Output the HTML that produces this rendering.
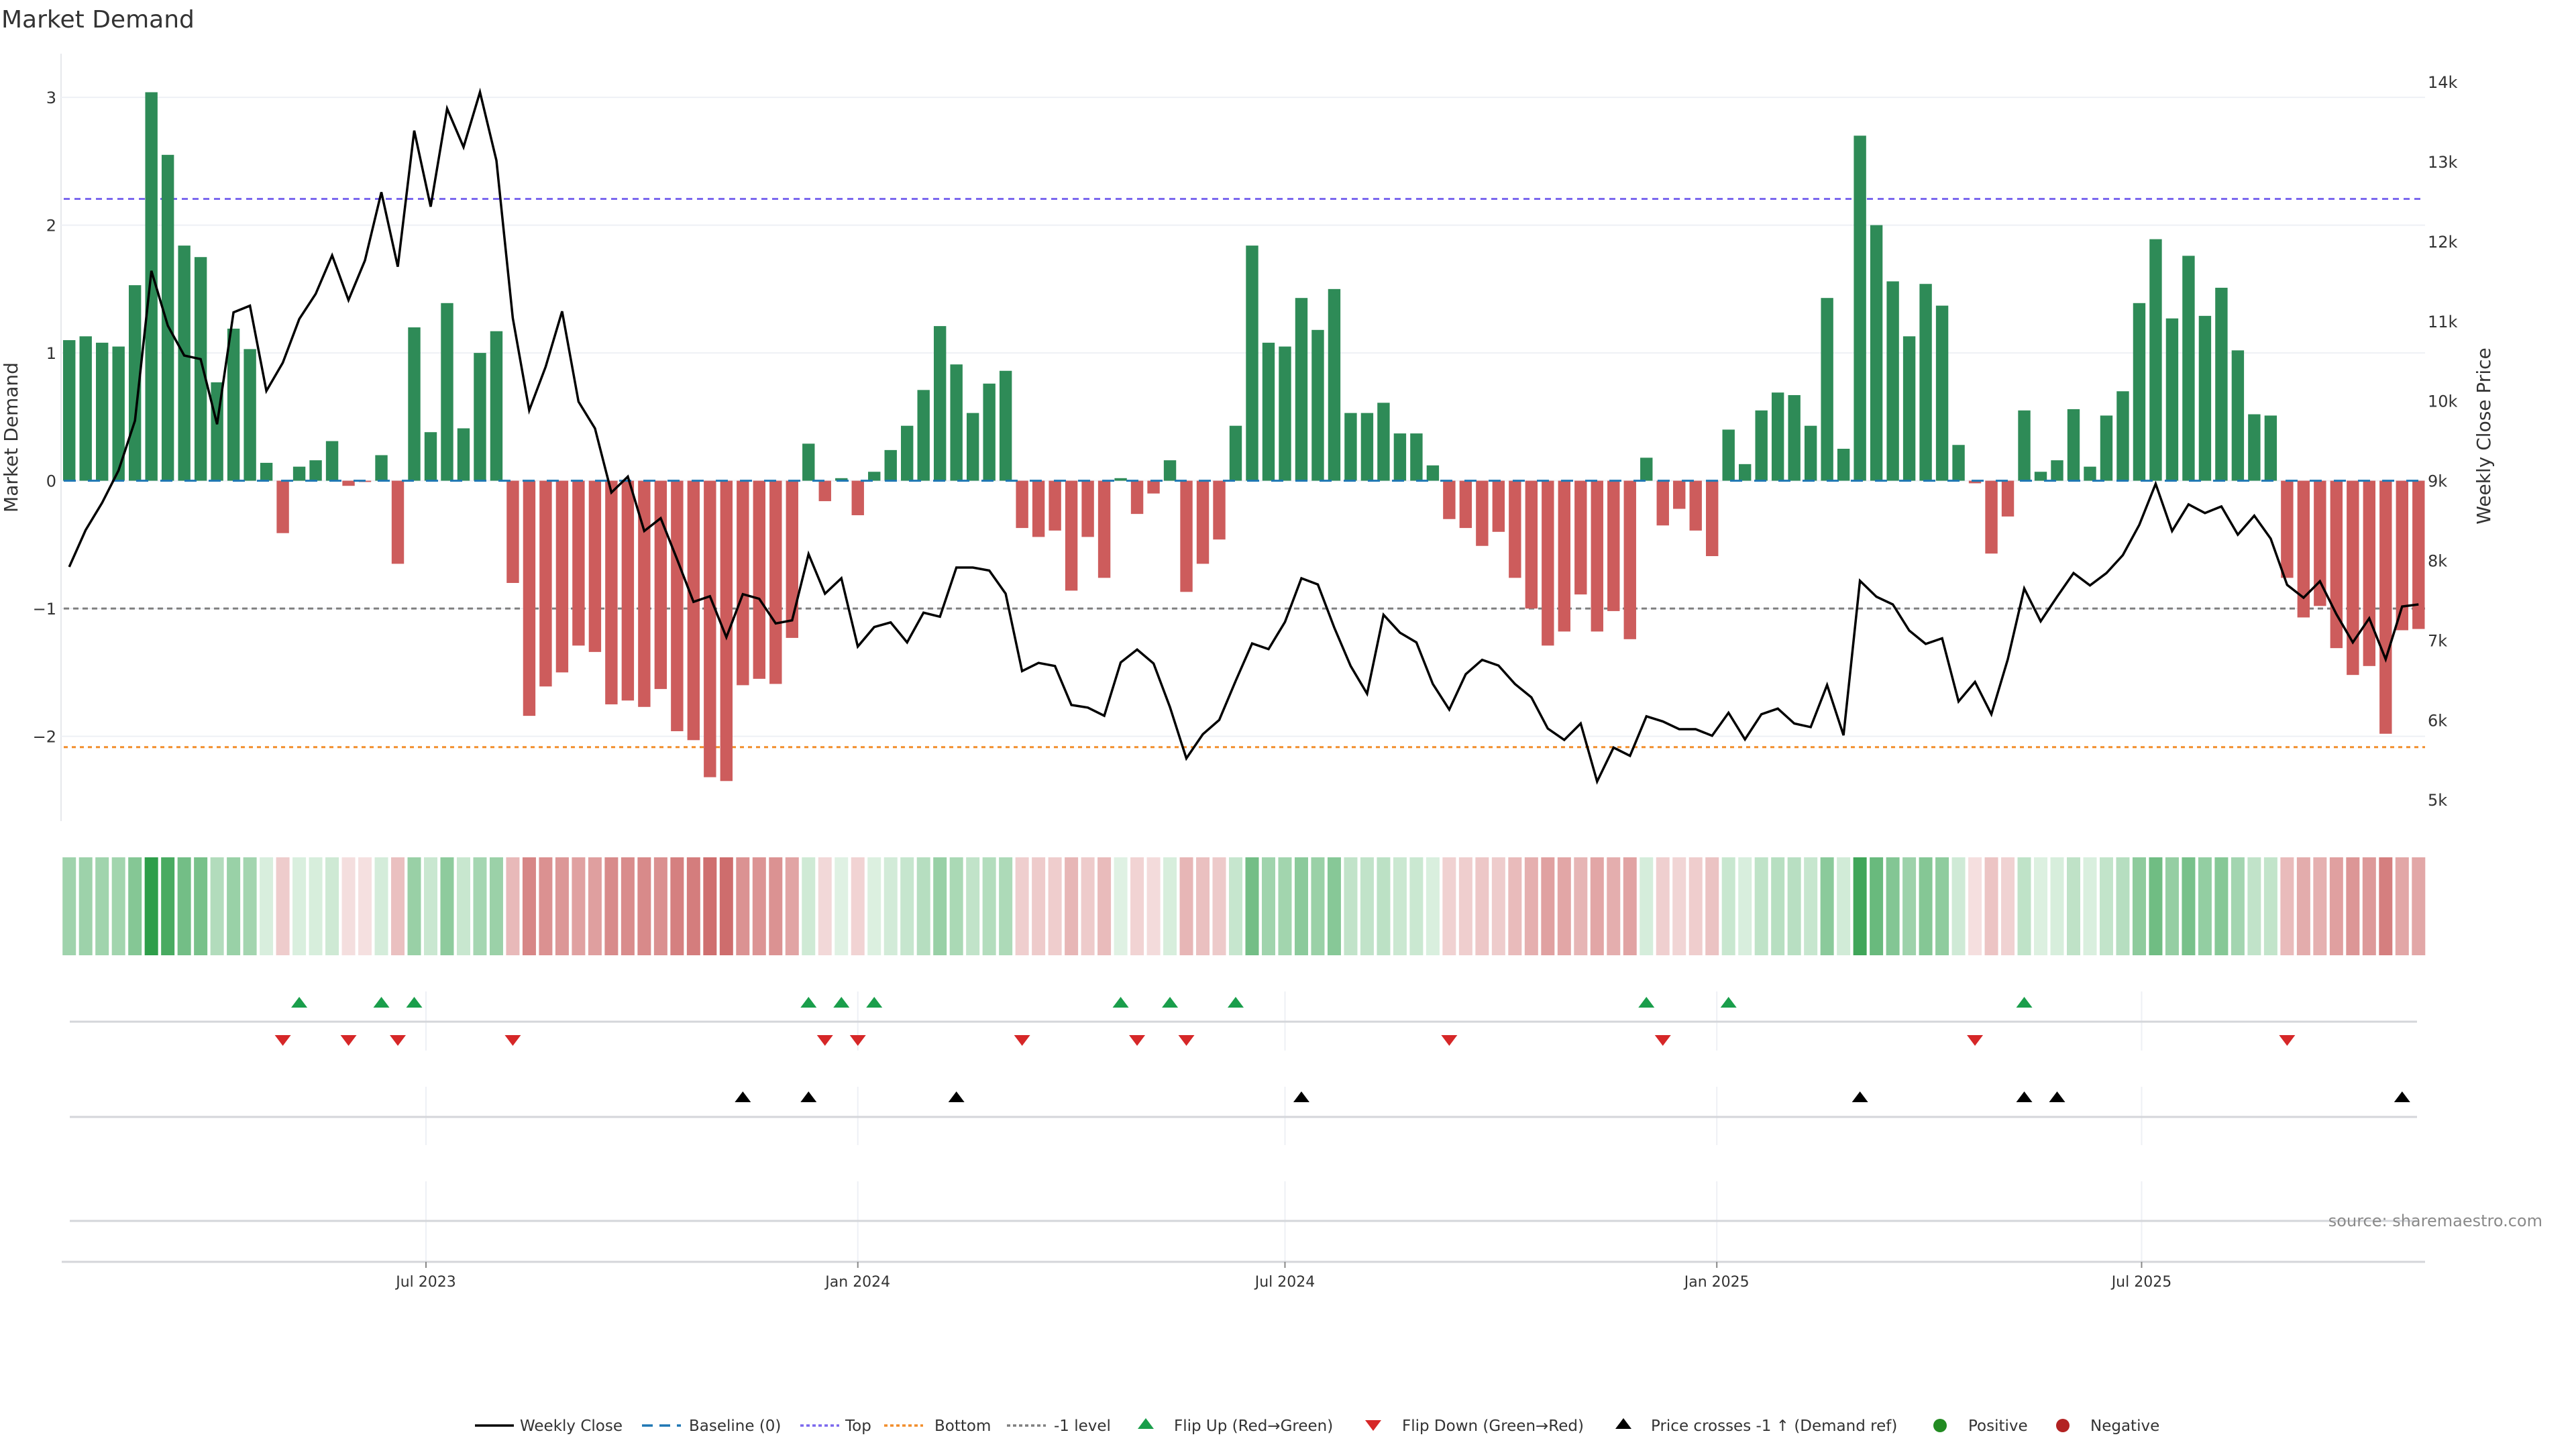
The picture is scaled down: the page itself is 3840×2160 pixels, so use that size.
<!DOCTYPE html>
<html><head><meta charset="utf-8"><title>Market Demand</title>
<style>
html,body{margin:0;padding:0;background:#fff;}
svg{display:block;font-family:"DejaVu Sans","Liberation Sans",sans-serif;}
</style></head>
<body>
<svg id="chart" xmlns="http://www.w3.org/2000/svg" width="3840" height="2160" viewBox="0 0 3840 2160">
<rect x="0" y="0" width="3840" height="2160" fill="#ffffff"/>
<text x="2" y="41" font-size="36" fill="#333">Market Demand</text>
<text x="0" y="0" transform="translate(26,652) rotate(-90)" font-size="28" fill="#333" text-anchor="middle">Market Demand</text>
<text x="0" y="0" transform="translate(3712,650) rotate(-90)" font-size="28" fill="#333" text-anchor="middle">Weekly Close Price</text>
<line x1="91" y1="80" x2="91" y2="1224" stroke="#e6e8ec" stroke-width="2"/>
<g id="grid"></g>
<g id="refs"></g>
<g id="bars"></g>
<g id="line"></g>
<g id="heat"></g>
<g id="panels"></g>
<g id="xaxis"></g>
<text x="3790" y="1828" font-size="24" fill="#8a8a8a" text-anchor="end">source: sharemaestro.com</text>
<g id="legend"></g>
</svg>
<script>
const demandValues = [1.10,1.13,1.08,1.05,1.53,3.04,2.55,1.84,1.75,0.77,1.19,1.03,0.14,-0.41,0.11,0.16,0.31,-0.04,-0.01,0.20,-0.65,1.20,0.38,1.39,0.41,1.00,1.17,-0.80,-1.84,-1.61,-1.50,-1.29,-1.34,-1.75,-1.72,-1.77,-1.63,-1.96,-2.03,
-2.32,-2.35,-1.60,-1.55,-1.59,-1.23,0.29,-0.16,0.02,-0.27,0.07,0.24,0.43,0.71,1.21,0.91,0.53,0.76,0.86,-0.37,-0.44,-0.39,-0.86,-0.44,-0.76,0.02,-0.26,-0.10,0.16,-0.87,-0.65,-0.46,0.43,1.84,1.08,1.05,1.43,1.18,
1.50,0.53,0.53,0.61,0.37,0.37,0.12,-0.30,-0.37,-0.51,-0.40,-0.76,-1.00,-1.29,-1.18,-0.89,-1.18,-1.02,-1.24,0.18,-0.35,-0.22,-0.39,-0.59,0.40,0.13,0.55,0.69,0.67,0.43,1.43,0.25,2.70,2.00,1.56,1.13,1.54,
1.37,0.28,-0.02,-0.57,-0.28,0.55,0.07,0.16,0.56,0.11,0.51,0.70,1.39,1.89,1.27,1.76,1.29,1.51,1.02,0.52,0.51,-0.76,-1.07,-0.98,-1.31,-1.52,-1.45,-1.98,-1.17,-1.16];
const closePrices = [7919,8382,8723,9129,9753,11632,10943,10570,10525,9708,11111,11194,10126,10480,11027,11342,11825,11265,11761,12617,11683,13389,12436,13665,13183,13871,13015,11040,9882,10429,11124,9991,9656,8852,9051,8369,8530,8015,7481,
7552,7037,7578,7520,7211,7250,8080,7584,7777,6921,7166,7224,6973,7346,7295,7912,7912,7874,7584,6613,6716,6677,6188,6156,6053,6722,6883,6709,6162,5519,5821,6001,6490,6960,6889,7230,7777,
7700,7160,6677,6330,7320,7095,6973,6452,6130,6574,6754,6683,6452,6284,5892,5750,5956,5229,5654,5551,6046,5982,5885,5885,5802,6091,5757,6072,6143,5956,5911,6439,5808,7745,7546,7449,7121,6954,
7024,6233,6478,6072,6761,7649,7237,7546,7842,7687,7842,8067,8447,8961,8369,8704,8595,8678,8324,8562,8273,7694,7533,7739,7327,6973,7275,6761,7423,7449];
const demandTicks = [3,2,1,0,-1,-2];
const demandTickLabels = ["3","2","1","0","\u22121","\u22122"];
const priceTicks = [14000,13000,12000,11000,10000,9000,8000,7000,6000,5000];
const priceTickLabels = ["14k","13k","12k","11k","10k","9k","8k","7k","6k","5k"];
const refLevels = [2.205,-2.085,-1];
const dateTicks = ["2023-07-01","2024-01-01","2024-07-01","2025-01-01","2025-07-01"];
const dateTickLabels = ["Jul 2023","Jan 2024","Jul 2024","Jan 2025","Jul 2025"];
const startDate = "2023-01-30";

const NS="http://www.w3.org/2000/svg";
function mk(tag, attrs, parent){const e=document.createElementNS(NS,tag);for(const k in attrs)e.setAttribute(k,attrs[k]);parent.appendChild(e);return e;}
const DAY=86400000, PX_PER_DAY=24.49/7;
const t0=Date.parse(startDate+"T00:00:00Z");
const xDate=d=>635+(Date.parse(d+"T00:00:00Z")-Date.parse("2023-07-01T00:00:00Z"))/DAY*PX_PER_DAY;
const xIdx=i=>xDate(new Date(t0+i*7*DAY).toISOString().slice(0,10));
const yV=v=>716.6-v*190.5;
const yP=p=>716.6-(p-9000)*0.1189;
const L=91,R=3615;

// grid + ticks
const grid=document.getElementById('grid');
demandTicks.forEach((v,k)=>{
  const g=mk('line',{x1:L,x2:R,y1:yV(v),y2:yV(v),stroke:'#eef0f5','stroke-width':2},grid);
  
  
  const t=mk('text',{x:84,y:yV(v)+9,'font-size':24,fill:'#333','text-anchor':'end'},grid);
  t.textContent=demandTickLabels[k];
  
  
});
priceTicks.forEach((p,k)=>{
  const t=mk('text',{x:3619,y:yP(p)+9,'font-size':24,fill:'#333'},grid);
  t.textContent=priceTickLabels[k];
  
  
});

// bars
const bars=document.getElementById('bars');
demandValues.forEach((v,i)=>{
  const x=xIdx(i), y0=yV(0), y1=yV(v);
  const b=mk('rect',{x:x-9.2,width:18.4,y:Math.min(y0,y1),height:Math.max(Math.abs(y1-y0),0.8),fill:v>=0?'#2e8b57':'#cd5c5c'},bars);
  
  
});

// reference lines
const refs=document.getElementById('refs');
const refStyle=[['#7b68ee','9 7','top-level-line'],['#f28e2b','6 6','bottom-level-line'],['#7f7f7f','8 6','minus-one-level-line']];
refLevels.forEach((v,k)=>{
  const l=mk('line',{x1:95,x2:R,y1:yV(v),y2:yV(v),stroke:refStyle[k][0],'stroke-width':3,'stroke-dasharray':refStyle[k][1]},refs);
  
  
});
const base=mk('line',{x1:95,x2:R,y1:yV(0),y2:yV(0),stroke:'#1f77b4','stroke-width':3,'stroke-dasharray':'18 18'},bars);



// price line
const lineG=document.getElementById('line');
const pts=closePrices.map((p,i)=>xIdx(i).toFixed(1)+','+yP(p).toFixed(1)).join(' ');
const pl=mk('polyline',{points:pts,fill:'none',stroke:'#000','stroke-width':3.5,'stroke-linejoin':'miter'},lineG);



// heatmap
function lerp(a,b,t){return Math.round(a+(b-a)*t);}
function heatColor(v){
  if(v>=0){const t=Math.min(v/3,1);return `rgb(${lerp(224,46,t)},${lerp(242,158,t)},${lerp(228,74,t)})`;}
  const t=Math.min(-v/2.5,1);return `rgb(${lerp(245,204,t)},${lerp(224,102,t)},${lerp(224,102,t)})`;
}
const heat=document.getElementById('heat');
demandValues.forEach((v,i)=>{
  const c=mk('rect',{x:xIdx(i)-10,width:20,y:1278,height:146,fill:heatColor(v)},heat);
  
  
});

// panels
const panels=document.getElementById('panels');
dateTicks.forEach(d=>{
  [[1478,1566],[1620,1707],[1761,1880]].forEach(r=>{
    const v=mk('line',{x1:xDate(d),x2:xDate(d),y1:r[0],y2:r[1],stroke:'#eef0f5','stroke-width':2},panels);
    
    
  });
});
[[1523,'flip-panel-axis'],[1665,'cross-panel-axis'],[1820,'empty-panel-axis']].forEach(a=>{
  const l=mk('line',{x1:104,x2:3603,y1:a[0],y2:a[0],stroke:'#d4d6da','stroke-width':3},panels);
  
  
});
function tri(x,y,up,color,parent){
  const d=up?`M${x-12},${y+8} L${x+12},${y+8} L${x},${y-8} Z`:`M${x-12},${y-8} L${x+12},${y-8} L${x},${y+8} Z`;
  return mk('path',{d:d,fill:color},parent);
}
const priceRef=9000+(yP(9000)-yV(-1))/0.1189;
for(let i=1;i<demandValues.length;i++){
  const prev=demandValues[i-1], cur=demandValues[i];
  if(prev<0&&cur>=0){const t=tri(xIdx(i),1494,true,'#1a9e4b',panels);
    
    }
  if(prev>=0&&cur<0){const t=tri(xIdx(i),1551,false,'#d62728',panels);
    
    }
  if(closePrices[i-1]<priceRef&&closePrices[i]>=priceRef){const t=tri(xIdx(i),1635,true,'#000',panels);
    
    }
}

// x axis
const xa=document.getElementById('xaxis');
const ax=mk('line',{x1:92,x2:R,y1:1881,y2:1881,stroke:'#d4d6da','stroke-width':3},xa);


dateTicks.forEach((d,k)=>{
  const x=xDate(d);
  const tk=mk('line',{x1:x,x2:x,y1:1881,y2:1890,stroke:'#888','stroke-width':2},xa);
  
  
  const t=mk('text',{x:x,y:1918,'font-size':22,fill:'#333','text-anchor':'middle'},xa);
  t.textContent=dateTickLabels[k];
  
  
});

// legend
const lg=document.getElementById('legend');
const LY=2125;
function ltext(x,s){const t=mk('text',{x:x,y:LY+8,'font-size':23,fill:'#333'},lg);t.textContent=s;
  
  return t;}
function lline(x,color,dash,name){const l=mk('line',{x1:x,x2:x+58,y1:LY,y2:LY,stroke:color,'stroke-width':3.5,'stroke-dasharray':dash},lg);
  
  }
lline(708,'#000','none','legend-weekly-close');ltext(775,'Weekly Close');
lline(957,'#1f77b4','16 10','legend-baseline');ltext(1027,'Baseline (0)');
lline(1193,'#7b68ee','5 4','legend-top');ltext(1260,'Top');
lline(1318,'#f28e2b','5 4','legend-bottom');ltext(1393,'Bottom');
lline(1501,'#7f7f7f','5 4','legend-minus-one');ltext(1571,'-1 level');
let t1=tri(1708,LY-3,true,'#1a9e4b',lg);


ltext(1750,'Flip Up (Red\u2192Green)');
let t2=tri(2047,LY,false,'#d62728',lg);


ltext(2090,'Flip Down (Green\u2192Red)');
let t3=tri(2420,LY-3,true,'#000',lg);


ltext(2461,'Price crosses -1 \u2191 (Demand ref)');
let c1=mk('circle',{cx:2892,cy:LY,r:10,fill:'#228b22'},lg);


ltext(2934,'Positive');
let c2=mk('circle',{cx:3075,cy:LY,r:10,fill:'#b22222'},lg);


ltext(3116,'Negative');
</script>
</body></html>
